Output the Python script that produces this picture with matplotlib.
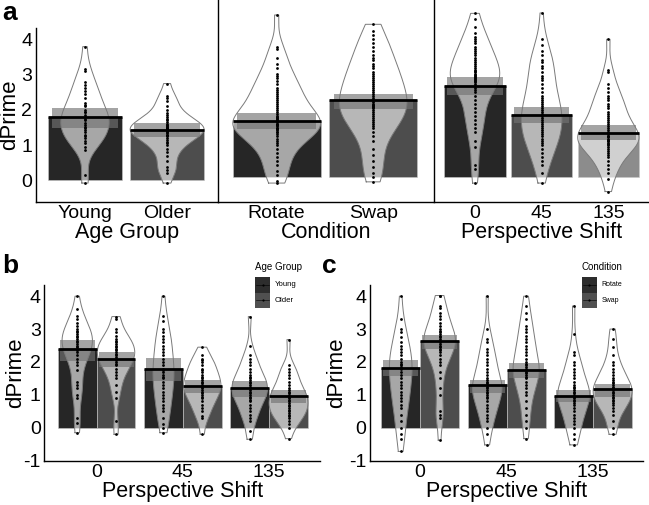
import numpy as np
import matplotlib
matplotlib.use("Agg")
import matplotlib.pyplot as plt
from matplotlib.mlab import GaussianKDE
from matplotlib.patches import Rectangle
from matplotlib.lines import Line2D

plt.rcParams["font.family"] = ["Liberation Sans", "DejaVu Sans"]

W, H = 649, 505

# ------------------------------------------------------------------ #
#  Data                                           #
# ------------------------------------------------------------------ #

# panel a, left: age group
age_labels = ["Young", "Older"]
age_colors = ["#262626", "#4d4d4d"]
age_means = [1.79, 1.43]
age_lo = [1.49, 1.24]
age_hi = [2.06, 1.62]
age_young = [3.8, 3.17, 3.12, 2.8, 2.72, 2.62, 2.55, 2.45, 2.35, 2.2, 2.15, 2.1,
             2.0, 1.95, 1.93, 1.85, 1.8, 1.75, 1.7, 1.62, 1.58, 1.52, 1.48, 1.42,
             1.38, 1.3, 1.25, 1.2, 1.12, 1.05, 0.95, 0.85, 0.15, -0.08]
age_older = [2.75, 2.4, 2.35, 2.25, 2.1, 2.0, 1.9, 1.85, 1.8, 1.75, 1.7, 1.65,
             1.6, 1.58, 1.55, 1.52, 1.5, 1.48, 1.45, 1.43, 1.4, 1.38, 1.35, 1.3,
             1.28, 1.25, 1.2, 1.15, 1.1, 1.05, 1.0, 0.9, 0.8, 0.7, 0.55, 0.38,
             0.3, 0.22, -0.08]

# panel a, middle: condition
cond_labels = ["Rotate", "Swap"]
cond_colors = ["#262626", "#4d4d4d"]
cond_means = [1.38, 1.89]
cond_lo = [1.19, 1.68]
cond_hi = [1.57, 2.06]
cond_rotate = [4.0, 3.2, 3.17, 2.95, 2.8, 2.7, 2.55, 2.5, 2.45, 2.38, 2.3, 2.2,
               2.15, 2.1, 2.05, 2.0, 1.95, 1.9, 1.85, 1.8, 1.75, 1.7, 1.65, 1.6,
               1.55, 1.5, 1.48, 1.45, 1.42, 1.4, 1.38, 1.35, 1.32, 1.3, 1.28,
               1.25, 1.22, 1.2, 1.18, 1.15, 1.12, 1.1, 1.05, 1.0, 0.95, 0.9,
               0.85, 0.8, 0.7, 0.6, 0.5, 0.4, 0.3, 0.15, 0.05, -0.1, -0.15]
cond_swap = [3.77, 3.6, 3.5, 3.4, 3.3, 3.2, 3.1, 3.0, 2.95, 2.9, 2.8, 2.75, 2.7,
             2.6, 2.55, 2.5, 2.45, 2.4, 2.35, 2.3, 2.25, 2.2, 2.15, 2.1, 2.05,
             2.0, 1.95, 1.9, 1.85, 1.8, 1.78, 1.75, 1.72, 1.7, 1.65, 1.6, 1.55,
             1.5, 1.45, 1.4, 1.35, 1.3, 1.25, 1.2, 1.1, 1.0, 0.9, 0.7, 0.55,
             0.4, 0.25, 0.1, 0.0, -0.12]

# panel a, right: perspective shift
shift_labels = ["0", "45", "135"]
shift_colors = ["#262626", "#4d4d4d", "#8c8c8c"]
shift_means = [2.25, 1.53, 1.08]
shift_lo = [2.02, 1.33, 0.91]
shift_hi = [2.46, 1.74, 1.28]
shift_0 = [4.04, 3.9, 3.7, 3.55, 3.45, 3.4, 3.35, 3.3, 3.2, 3.15, 3.1, 3.05,
           3.0, 2.95, 2.9, 2.85, 2.8, 2.75, 2.7, 2.65, 2.62, 2.6, 2.55, 2.52,
           2.5, 2.48, 2.45, 2.42, 2.4, 2.38, 2.35, 2.3, 2.25, 2.2, 2.15, 2.1,
           2.0, 1.9, 1.8, 1.7, 1.6, 1.5, 1.4, 1.3, 1.2, 1.1, 0.9, 0.75, 0.3,
           0.2, -0.15]
shift_45 = [4.05, 3.4, 3.25, 3.1, 3.0, 2.9, 2.85, 2.75, 2.7, 2.6, 2.5, 2.45,
            2.4, 2.3, 2.2, 2.1, 2.0, 1.95, 1.9, 1.85, 1.8, 1.75, 1.7, 1.65, 1.6,
            1.55, 1.5, 1.45, 1.4, 1.35, 1.3, 1.25, 1.2, 1.15, 1.1, 1.05, 1.0,
            0.95, 0.9, 0.85, 0.8, 0.7, 0.6, 0.5, 0.4, 0.3, 0.1, -0.15]
shift_135 = [3.4, 2.65, 2.6, 2.3, 2.2, 2.1, 2.0, 1.95, 1.9, 1.8, 1.75, 1.7, 1.6,
             1.55, 1.5, 1.45, 1.4, 1.35, 1.3, 1.25, 1.2, 1.15, 1.1, 1.08, 1.05,
             1.02, 1.0, 0.98, 0.95, 0.92, 0.9, 0.88, 0.85, 0.82, 0.8, 0.75, 0.7,
             0.65, 0.6, 0.55, 0.5, 0.4, 0.3, 0.2, 0.1, -0.05, -0.36]

# panel b: shift x age group  (order: 0, 45, 135; within each Young, Older)
b_means = [[2.38, 2.09], [1.80, 1.27], [1.20, 0.96]]
b_lo = [[2.03, 1.85], [1.43, 1.06], [0.94, 0.74]]
b_hi = [[2.68, 2.31], [2.11, 1.45], [1.43, 1.14]]
b_young_0 = [4.0, 3.6, 3.4, 3.3, 3.2, 3.1, 3.0, 2.95, 2.9, 2.85, 2.8, 2.75, 2.7,
             2.65, 2.6, 2.55, 2.5, 2.45, 2.4, 2.35, 2.3, 2.2, 2.1, 2.0, 1.9,
             1.75, 1.4, 1.3, 1.2, 1.0, 0.9, 0.3, 0.15, -0.15]
b_older_0 = [3.38, 3.3, 3.0, 2.9, 2.8, 2.7, 2.65, 2.6, 2.55, 2.5, 2.45, 2.4,
             2.35, 2.3, 2.25, 2.2, 2.15, 2.1, 2.05, 2.0, 1.95, 1.9, 1.8, 1.7,
             1.6, 1.5, 1.3, 1.1, 0.9, 0.2, -0.2]
b_young_45 = [4.0, 3.4, 3.25, 3.0, 2.9, 2.8, 2.7, 2.6, 2.5, 2.4, 2.3, 2.2, 2.1,
              2.0, 1.9, 1.8, 1.75, 1.7, 1.6, 1.55, 1.5, 1.4, 1.3, 1.2, 1.1, 1.0,
              0.9, 0.8, 0.7, 0.6, 0.5, 0.3, 0.1, 0.0, -0.15]
b_older_45 = [2.45, 2.2, 2.1, 2.05, 2.0, 1.9, 1.8, 1.75, 1.7, 1.6, 1.55, 1.5,
              1.45, 1.4, 1.35, 1.3, 1.25, 1.2, 1.15, 1.1, 1.05, 1.0, 0.95, 0.9,
              0.8, 0.7, 0.6, 0.5, 0.35, 0.3, -0.2]
b_young_135 = [3.38, 2.5, 2.2, 2.1, 2.0, 1.9, 1.8, 1.7, 1.6, 1.55, 1.5, 1.45,
               1.4, 1.35, 1.3, 1.25, 1.2, 1.15, 1.1, 1.05, 1.0, 0.95, 0.9, 0.85,
               0.8, 0.7, 0.6, 0.5, 0.4, 0.3, 0.2, -0.1, -0.35]
b_older_135 = [2.68, 1.9, 1.8, 1.7, 1.6, 1.5, 1.4, 1.3, 1.2, 1.15, 1.1, 1.05,
               1.0, 0.95, 0.9, 0.85, 0.8, 0.75, 0.7, 0.65, 0.6, 0.55, 0.5, 0.45,
               0.4, 0.35, 0.3, 0.2, 0.1, 0.0, -0.33]

# panel c: shift x condition  (order: 0, 45, 135; within each Rotate, Swap)
c_means = [[1.83, 2.63], [1.29, 1.77], [0.97, 1.17]]
c_lo = [[1.57, 2.38], [1.06, 1.50], [0.77, 0.94]]
c_hi = [[2.06, 2.82], [1.45, 1.98], [1.14, 1.32]]
c_rotate_0 = [4.0, 3.3, 3.0, 2.9, 2.75, 2.6, 2.5, 2.4, 2.3, 2.2, 2.1, 2.0, 1.95,
              1.9, 1.85, 1.8, 1.7, 1.6, 1.5, 1.4, 1.3, 1.2, 1.1, 1.0, 0.9, 0.8,
              0.7, 0.6, 0.4, 0.2, 0.0, -0.2, -0.35, -0.72]
c_swap_0 = [4.02, 4.0, 3.7, 3.65, 3.5, 3.4, 3.3, 3.2, 3.1, 3.0, 2.95, 2.9, 2.85,
            2.8, 2.75, 2.7, 2.65, 2.6, 2.55, 2.5, 2.45, 2.4, 2.35, 2.3, 2.2,
            2.1, 2.0, 1.9, 1.7, 1.5, 1.2, 1.0, 0.5, 0.4, 0.3, -0.38]
c_rotate_45 = [4.0, 3.0, 2.7, 2.6, 2.4, 2.3, 2.2, 2.1, 2.0, 1.9, 1.8, 1.7, 1.6,
               1.5, 1.45, 1.4, 1.35, 1.3, 1.25, 1.2, 1.15, 1.1, 1.05, 1.0, 0.95,
               0.9, 0.8, 0.7, 0.6, 0.5, 0.4, 0.3, 0.2, 0.0, -0.2, -0.52]
c_swap_45 = [4.0, 3.7, 3.5, 3.3, 3.1, 3.0, 2.9, 2.8, 2.7, 2.6, 2.5, 2.4, 2.3,
             2.2, 2.1, 2.0, 1.95, 1.9, 1.85, 1.8, 1.75, 1.7, 1.65, 1.6, 1.55,
             1.5, 1.4, 1.3, 1.2, 1.1, 1.0, 0.8, 0.6, 0.4, 0.2, 0.0, -0.33]
c_rotate_135 = [3.7, 2.85, 2.3, 2.2, 2.0, 1.9, 1.8, 1.7, 1.6, 1.5, 1.4, 1.3,
                1.25, 1.2, 1.15, 1.1, 1.05, 1.0, 0.95, 0.9, 0.85, 0.8, 0.75,
                0.7, 0.6, 0.5, 0.4, 0.3, 0.2, 0.1, 0.0, -0.2, -0.35, -0.52]
c_swap_135 = [3.0, 2.7, 2.45, 2.2, 2.0, 1.9, 1.8, 1.7, 1.6, 1.5, 1.45, 1.4, 1.35,
              1.3, 1.25, 1.2, 1.15, 1.1, 1.05, 1.0, 0.95, 0.9, 0.85, 0.8, 0.75,
              0.7, 0.6, 0.5, 0.4, 0.2, 0.0, -0.2]

# ------------------------------------------------------------------ #
#  Helpers                                                            #
# ------------------------------------------------------------------ #

BEAN_LINE = "#7a7a7a"
BAND_COL = "#737373"
TICK_FS = 14
LABEL_FS = 15.5

fig = plt.figure(figsize=(W / 100, H / 100), dpi=100)


def px_axes(left, top, right, bottom):
    """Axes placed by pixel box (origin top-left)."""
    return fig.add_axes([left / W, 1 - bottom / H, (right - left) / W, (bottom - top) / H])


def nrd0(v):
    # R's default density bandwidth, expressed as a factor of the sd
    sd = v.std(ddof=1)
    q75, q25 = np.percentile(v, [75, 25])
    return 0.9 * min(sd, (q75 - q25) / 1.34) * len(v) ** -0.2 / sd


def pirate(ax, xs, samples, means, lo, hi, colors, bar_w):
    """Bars + beans + inference bands + raw points + mean lines."""
    dens = []
    for vals in samples:
        v = np.asarray(vals, float)
        kde = GaussianKDE(v, bw_method=nrd0(v))
        yy = np.linspace(v.min(), v.max(), 200)
        dens.append((yy, kde.evaluate(yy)))
    dmax = max(d.max() for _, d in dens)   # beans share one width scale

    for x, vals, m, l, h, c, (yy, d) in zip(xs, samples, means, lo, hi, colors, dens):
        ax.bar(x, m, width=bar_w, color=c, edgecolor="#c8c8c8", linewidth=0.4, zorder=1)
        half = d / dmax * bar_w / 2
        px = np.concatenate([x - half, (x + half)[::-1]])
        py = np.concatenate([yy, yy[::-1]])
        ax.fill(px, py, facecolor="white", alpha=0.6, edgecolor="none", zorder=2)
        ax.fill_between([x - bar_w * 0.45, x + bar_w * 0.45], l, h,
                        color=BAND_COL, alpha=0.65, linewidth=0, zorder=3)
        ax.plot(np.append(px, px[0]), np.append(py, py[0]), color=BEAN_LINE, lw=0.7, zorder=4)
        ax.plot(np.full(len(vals), x), vals, "o", color="black", ms=2.0, mew=0, zorder=5)
        ax.plot([x - bar_w / 2, x + bar_w / 2], [m, m], color="black", lw=2, zorder=6,
                solid_capstyle="butt")


def style(ax, ylim, yticks, show_y=True):
    ax.set_ylim(*ylim)
    for side in ("top", "right"):
        ax.spines[side].set_visible(False)
    for side in ("left", "bottom"):
        ax.spines[side].set_linewidth(1.0)
    ax.tick_params(length=0, labelsize=TICK_FS, pad=2.5)
    if show_y:
        ax.set_yticks(yticks)
        ax.set_yticklabels([str(t) for t in yticks])
    else:
        ax.set_yticks([])


def ylabel_at(ax, text, right_px, left_px, width_px):
    # right_px: where the right side of the rotated label should sit
    ax.set_ylabel(text, fontsize=LABEL_FS + 0.5)
    ax.yaxis.set_label_coords((right_px - left_px) / width_px, 0.5)


def legend_box(title, labels, colors, x0, y_title, y_top, key_w, key_h, tfs, lfs):
    fig.text(x0 / W, 1 - y_title / H, title, fontsize=tfs, va="center", ha="left")
    for i, (lab, col) in enumerate(zip(labels, colors)):
        top = y_top + i * key_h
        fig.add_artist(Rectangle((x0 / W, 1 - (top + key_h) / H), key_w / W, key_h / H,
                                 transform=fig.transFigure, facecolor=col, edgecolor="none"))
        yc = 1 - (top + key_h / 2) / H
        fig.add_artist(Line2D([(x0 + 1) / W, (x0 + key_w - 1) / W], [yc, yc],
                              transform=fig.transFigure, color="black", lw=0.4))
        fig.add_artist(Line2D([(x0 + key_w / 2) / W], [yc], transform=fig.transFigure,
                              marker="o", ms=1.6, color="black", mew=0))
        fig.text((x0 + key_w + 5) / W, yc, lab, fontsize=lfs, va="center", ha="left")


# ------------------------------------------------------------------ #
#  Panel a                                                            #
# ------------------------------------------------------------------ #
YLIM_A = (-0.61, 4.33)

ax1 = px_axes(35.7, 28, 218, 201.7)
pirate(ax1, [1, 2], [age_young, age_older], age_means, age_lo, age_hi, age_colors, 0.9)
style(ax1, YLIM_A, [0, 1, 2, 3, 4])
ax1.set_xlim(0.4, 2.62)
ax1.set_xticks([1, 2])
ax1.set_xticklabels(age_labels)
ax1.set_xlabel("Age Group", fontsize=LABEL_FS, labelpad=0)
ylabel_at(ax1, "dPrime", 20, 35.7, 182.3)

ax2 = px_axes(218.3, 0, 433, 201.7)
pirate(ax2, [1, 2], [cond_rotate, cond_swap], cond_means, cond_lo, cond_hi, cond_colors, 0.91)
style(ax2, (-0.61, 4.37), None, show_y=False)
ax2.set_xlim(0.395, 2.62)
ax2.set_xticks([1, 2])
ax2.set_xticklabels(cond_labels)
ax2.set_xlabel("Condition", fontsize=LABEL_FS, labelpad=0)

ax3 = px_axes(434, 0, 649, 201.7)
pirate(ax3, [1, 2, 3], [shift_0, shift_45, shift_135], shift_means, shift_lo, shift_hi,
       shift_colors, 0.92)
style(ax3, (-0.61, 4.37), None, show_y=False)
ax3.set_xlim(0.385, 3.61)
ax3.set_xticks([1, 2, 3])
ax3.set_xticklabels(shift_labels)
ax3.set_xlabel("Perspective Shift", fontsize=LABEL_FS, labelpad=0)

# ------------------------------------------------------------------ #
#  Panels b and c                                                     #
# ------------------------------------------------------------------ #
YLIM_BC = (-1.01, 4.34)
DODGE = 0.45


def grouped(ax, samples, means, lo, hi, colors):
    xs, smp, mm, ll, hh, cc = [], [], [], [], [], []
    for i in range(len(shift_labels)):
        for j in range(2):
            xs.append(i + 1 + (j - 0.5) * DODGE)
            smp.append(samples[i][j])
            mm.append(means[i][j])
            ll.append(lo[i][j])
            hh.append(hi[i][j])
            cc.append(colors[j])
    pirate(ax, xs, smp, mm, ll, hh, cc, DODGE)
    style(ax, YLIM_BC, [-1, 0, 1, 2, 3, 4])
    ax.set_xticks([1, 2, 3])
    ax.set_xticklabels(shift_labels)
    ax.set_xlabel("Perspective Shift", fontsize=LABEL_FS, labelpad=0)


ax4 = px_axes(44.3, 285, 320, 461)
grouped(ax4, [[b_young_0, b_older_0], [b_young_45, b_older_45], [b_young_135, b_older_135]],
        b_means, b_lo, b_hi, age_colors)
ax4.set_xlim(0.393, 3.59)
ylabel_at(ax4, "dPrime", 26, 44.3, 275.7)

ax5 = px_axes(370, 285, 643.3, 461)
grouped(ax5, [[c_rotate_0, c_swap_0], [c_rotate_45, c_swap_45], [c_rotate_135, c_swap_135]],
        c_means, c_lo, c_hi, cond_colors)
ax5.set_xlim(0.42, 3.58)
ylabel_at(ax5, "dPrime", 347, 370, 273.3)

legend_box("Age Group", age_labels, ["#2d2d2d", "#505050"], 255, 267, 277, 15, 15.5, 7, 5.6)
legend_box("Condition", cond_labels, ["#2d2d2d", "#505050"], 581.7, 267, 277, 15, 15.5, 7, 5.0)

# panel tags
for tag, x, y in [("a", 2, 20), ("b", 2, 273), ("c", 322, 273)]:
    fig.text(x / W, 1 - y / H, tag, fontsize=19, fontweight="bold", ha="left", va="baseline")

fig.savefig("out.png", dpi=100)
